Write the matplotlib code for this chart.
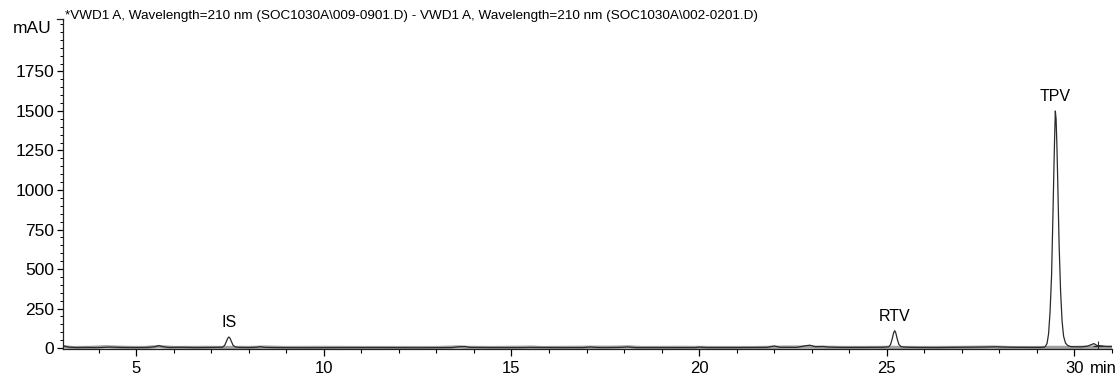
import matplotlib
matplotlib.use("Agg")
import matplotlib.pyplot as plt
from matplotlib.ticker import MultipleLocator

plt.rcParams['font.family'] = ['Liberation Sans', 'DejaVu Sans']

# sample trace (black): time [min], signal [mAU]
t_muestra = [3.05, 3.2, 3.4, 3.7, 4.0, 4.3, 4.6, 5.0, 5.3, 5.5, 5.6, 5.7, 5.85, 6.2, 6.6, 7.0, 7.3,
             7.36, 7.40, 7.44, 7.47, 7.50, 7.54, 7.58, 7.64, 7.75, 8.0, 8.2, 8.3, 8.42, 8.8, 9.5, 10.5,
             11.5, 12.5, 13.4, 13.6, 13.75, 13.9, 14.5, 15.3, 15.6, 16.2, 16.9, 17.1, 17.25, 17.4, 17.9,
             18.1, 18.3, 19.0, 19.9, 20.0, 20.2, 21.0, 21.8, 22.0, 22.15, 22.6, 22.85, 22.95, 23.1,
             23.3, 23.45, 23.8, 24.4, 24.9, 25.05, 25.10, 25.14, 25.18, 25.21, 25.24, 25.28, 25.32,
             25.37, 25.45, 25.7, 26.3, 27.0, 27.6, 27.9, 28.3, 28.8, 29.10, 29.20, 29.23, 29.27, 29.31,
             29.35, 29.39, 29.43, 29.45, 29.47, 29.49, 29.51, 29.53, 29.55, 29.59, 29.63, 29.67,
             29.71, 29.76, 29.82, 29.90, 30.0, 30.2, 30.35, 30.45, 30.52, 30.6, 30.7, 30.85, 31.0]
y_muestra = [14, 6, 3, 4, 3, 6, 4, 3, 4, 8, 16, 9, 4, 5, 3, 4, 5,
             18, 40, 62, 70, 62, 40, 18, 7, 4, 3, 5, 9, 4, 3, 2, 3,
             3, 2, 3, 8, 10, 4, 3, 3, 4, 3, 3, 7, 4, 3, 4,
             7, 3, 3, 3, 6, 3, 3, 4, 13, 5, 4, 15, 18, 8,
             10, 6, 4, 4, 5, 8, 22, 55, 95, 110, 95, 55, 24,
             10, 6, 4, 3, 5, 6, 8, 5, 4, 4, 6, 12, 30, 90,
             230, 460, 880, 1110, 1320, 1500, 1450, 1300, 1100, 660, 360, 170,
             75, 32, 16, 9, 8, 8, 12, 22, 28, 16, 14, 10, 10]

# reference trace (gray)
t_blanco = [3.05, 3.3, 3.8, 4.2, 4.4, 4.7, 5.2, 5.6, 6.0, 6.8, 7.5, 8.2, 8.4, 9.0, 10.0, 11.0, 12.0,
            13.0, 13.6, 13.8, 14.5, 15.3, 15.5, 15.8, 16.5, 17.2, 17.7, 18.1, 18.5, 19.5, 20.5,
            21.5, 22.0, 22.9, 23.3, 24.0, 25.0, 26.0, 27.0, 27.8, 28.3, 29.0, 29.4, 30.0, 30.5, 31.0]
y_blanco = [8, 3, 4, 8, 6, 4, 3, 9, 3, 4, 3, 4, 6, 3, 4, 3, 3,
            3, 7, 4, 3, 5, 6, 3, 4, 5, 5, 7, 3, 4, 3,
            3, 5, 7, 5, 3, 4, 3, 4, 6, 3, 3, 4, 4, 6, 5]

picos_t = [7.47, 25.21, 29.49]
picos_y = [70, 110, 1500]
picos_nombre = ['IS', 'RTV', 'TPV']

titulo = r'*VWD1 A, Wavelength=210 nm (SOC1030A\009-0901.D) - VWD1 A, Wavelength=210 nm (SOC1030A\002-0201.D)'

fig = plt.figure(figsize=(11.2, 3.77), dpi=100)
ax = fig.add_axes([63 / 1120, 1 - 349 / 377, (1112 - 63) / 1120, (349 - 19) / 377])

ax.plot(t_blanco, y_blanco, color='#a0a0a0', lw=2.4, solid_joinstyle='round')
ax.plot(t_muestra, y_muestra, color='#2a2a2a', lw=0.9)
ax.plot([30.64], [10], marker='+', color='#2a2a2a', ms=7, mew=0.8)

for t, y, nombre in zip(picos_t, picos_y, picos_nombre):
    ax.annotate(nombre, (t, y), xytext=(0, 5), textcoords='offset points',
                ha='center', va='bottom', fontsize=11.5)

ax.set_xlim(3.05, 31.0)
ax.set_ylim(-6, 2082)

ax.spines['top'].set_visible(False)
ax.spines['right'].set_visible(False)
for s in ('left', 'bottom'):
    ax.spines[s].set_linewidth(0.9)
    ax.spines[s].set_color('#222222')

ax.xaxis.set_major_locator(MultipleLocator(5))
ax.xaxis.set_minor_locator(MultipleLocator(1))
ax.yaxis.set_minor_locator(MultipleLocator(50))
ax.set_yticks([0, 250, 500, 750, 1000, 1250, 1500, 1750])

ax.tick_params(axis='x', which='major', length=5, width=0.9, labelsize=12, pad=3.5)
ax.tick_params(axis='x', which='minor', length=3, width=0.8)
ax.tick_params(axis='y', which='major', length=4.5, width=0.9, labelsize=12.5, pad=2)
ax.tick_params(axis='y', which='minor', length=2.2, width=0.7)

# top bracket tick and unit label
ax.plot([0, -0.006], [1, 1], transform=ax.transAxes, color='#222222', lw=0.9, clip_on=False)
ax.text(-0.011, 0.995, 'mAU', transform=ax.transAxes, ha='right', va='top', fontsize=12.5)
ax.annotate('min', (30, 0), xycoords=('data', 'axes fraction'), xytext=(11, -8.5),
            textcoords='offset points', ha='left', va='top', fontsize=12)

fig.text(65 / 1120, 1 - 16 / 377, titulo, ha='left', va='center', fontsize=9.7)

fig.savefig('out.png', dpi=100)
